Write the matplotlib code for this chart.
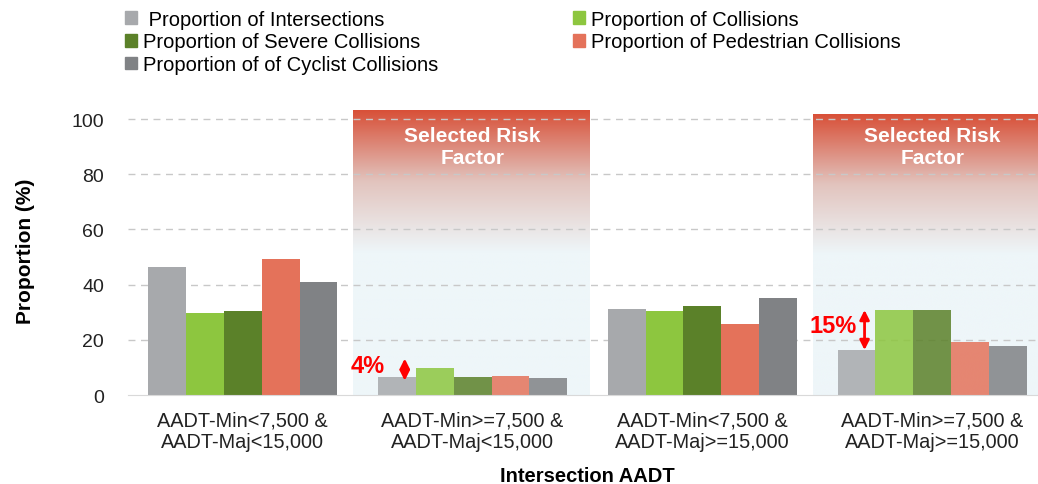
import numpy as np
import matplotlib.pyplot as plt
from matplotlib.patches import Patch

plt.rcParams['font.family'] = ['Liberation Sans', 'DejaVu Sans']

groups = ['AADT-Min<7,500 &\nAADT-Maj<15,000', 'AADT-Min>=7,500 &\nAADT-Maj<15,000',
          'AADT-Min<7,500 &\nAADT-Maj>=15,000', 'AADT-Min>=7,500 &\nAADT-Maj>=15,000']
series = [' Proportion of Intersections', 'Proportion of Collisions', 'Proportion of Severe Collisions',
          'Proportion of Pedestrian Collisions', 'Proportion of of Cyclist Collisions']
intersections = [46.4, 6.5, 31.0, 16.3]
collisions = [29.6, 9.7, 30.4, 30.8]
severe = [30.4, 6.5, 32.4, 30.7]
pedestrian = [49.2, 6.8, 25.7, 19.2]
cyclist = [41.0, 6.1, 35.0, 17.8]
values = [intersections, collisions, severe, pedestrian, cyclist]
colors = ['#a7a9ac', '#8dc63f', '#5b8129', '#e4725a', '#808285']
risk_groups = [1, 3]
risk_tops = [103, 101.5]
# label, arrow bottom, arrow top
gaps = {1: ('4%', 5.2, 13.2), 3: ('15%', 16.3, 30.8)}

fig = plt.figure(figsize=(10.38, 4.85), dpi=100)
ax = fig.add_axes([0.123, 0.1835, 0.886, 0.5975])
ax.set_xlim(-0.5, 3.5)
ax.set_ylim(0, 105)

# gradient panels for the selected risk factor groups
n = 300
t = np.linspace(0, 1, n)[:, None]  # 0 top -> 1 bottom
top = np.array([216, 80, 56]) / 255
mid = np.array([226, 196, 190]) / 255
low = np.array([238, 246, 249]) / 255
rgb = np.where(t < 0.25, top + (mid - top) * (t / 0.25),
               np.where(t < 0.5, mid + (low - mid) * ((t - 0.25) / 0.25), low))
img = np.concatenate([rgb, np.ones((n, 1))], axis=1)[:, None, :]
for g, h in zip(risk_groups, risk_tops):
    ax.imshow(img, extent=(g - 0.52, g + 0.51, 0, h), aspect='auto', zorder=0.5, interpolation='bilinear')
    ax.text(g, 90, 'Selected Risk\nFactor', color='white', fontsize=15, fontweight='bold',
            ha='center', va='center', zorder=5, linespacing=1.25)

for y in range(20, 101, 20):
    ax.axhline(y, color='#c8c8c8', lw=1, ls=(0, (5, 4)), zorder=1)

w = 0.165
x = np.arange(len(groups))
for j, (vals, c) in enumerate(zip(values, colors)):
    for i, v in enumerate(vals):
        a = 0.85 if i in risk_groups else 1.0
        ax.bar(x[i] + (j - 2) * w, v, w, color=c, alpha=a, zorder=2)

for g, (lab, lo, hi) in gaps.items():
    ax.annotate('', xy=(g - 0.295, lo), xytext=(g - 0.295, hi),
                arrowprops=dict(arrowstyle='<|-|>', color='#ff0000', lw=2, mutation_scale=14,
                                shrinkA=0, shrinkB=0), zorder=6)
    ax.text(g - 0.38 if g == 1 else g - 0.33, (lo + hi) / 2 + 1.5, lab, color='#ff0000', fontsize=17,
            fontweight='bold', ha='right', va='center', zorder=6)

ax.set_xticks(x)
ax.set_xticklabels(groups, fontsize=14.3, color='#222222', linespacing=1.15)
ax.set_yticks(range(0, 101, 20))
ax.tick_params(axis='y', labelsize=14, length=0, pad=17, labelcolor='#222222')
ax.tick_params(axis='x', length=0, pad=11)
for s in ['top', 'right', 'left']:
    ax.spines[s].set_visible(False)
ax.spines['bottom'].set_color('#d9d9d9')
ax.set_ylabel('Proportion (%)', fontsize=15, fontweight='bold', labelpad=26)
ax.set_xlabel('Intersection AADT', fontsize=14.5, fontweight='bold', labelpad=11)

order = [0, 2, 4, 1, 3]
handles = [Patch(color=colors[k]) for k in order]
fig.legend(handles, [series[k] for k in order], ncol=2, loc='upper left', bbox_to_anchor=(0.103, 1.015),
           frameon=False, fontsize=14.5, handlelength=0.6, handleheight=0.6, handletextpad=0.3,
           labelspacing=0.18, columnspacing=6.7)

fig.savefig('out.png', dpi=100)
